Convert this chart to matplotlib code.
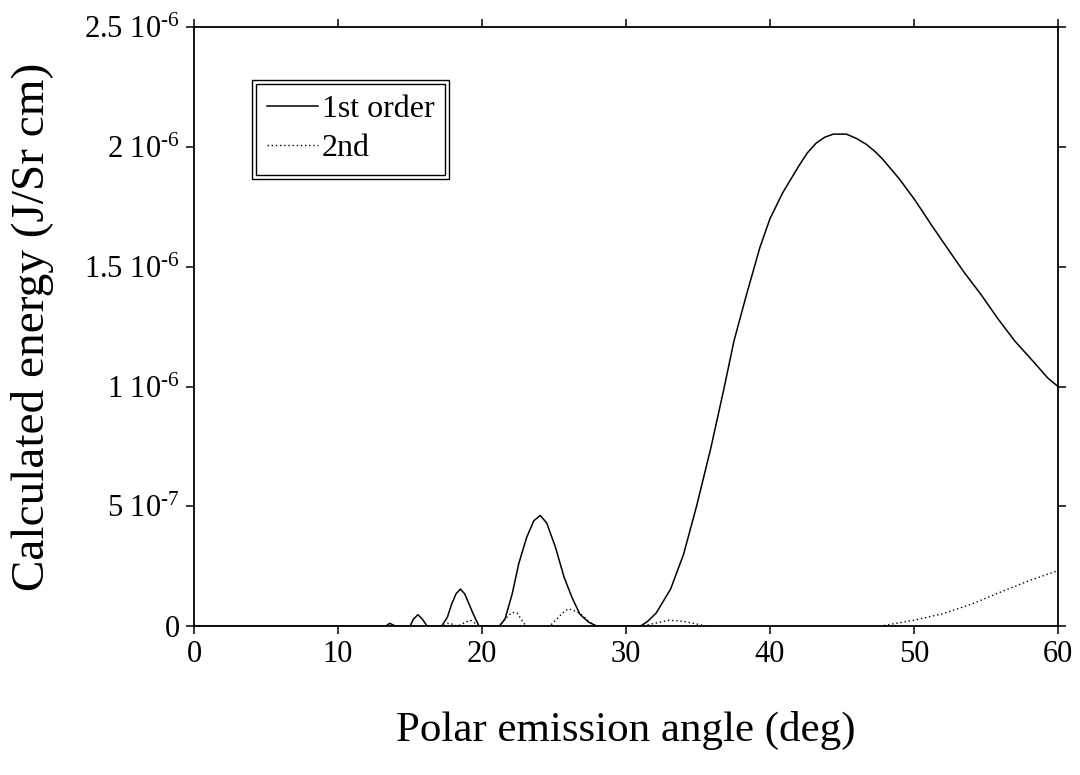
import matplotlib
matplotlib.use('Agg')
import matplotlib.pyplot as plt
from matplotlib.patches import Rectangle

plt.rcParams['font.family'] = 'Liberation Serif'
plt.rcParams['mathtext.fontset'] = 'custom'
plt.rcParams['mathtext.rm'] = 'Liberation Serif'
plt.rcParams['mathtext.it'] = 'Liberation Serif:italic'

# 1st order energy (units of 1e-6 J/Sr cm)
angle_1st = [0, 13.3, 13.6, 14.0, 15.0, 15.25, 15.55, 15.85, 16.2,
             17.2, 17.6, 17.9, 18.2, 18.5, 18.8, 19.1, 19.4, 19.8,
             21.2, 21.6, 22.1, 22.55, 23.1, 23.6, 24.05, 24.5, 25.1, 25.7,
             26.25, 26.8, 27.4, 28.0,
             31.0, 31.5, 32.1, 33.1, 34.0, 34.9, 35.9, 36.8, 37.5, 38.4,
             39.3, 40.0, 40.9, 41.5, 42.0, 42.6, 43.2, 43.8, 44.4, 45.3,
             46.0, 46.7, 47.3, 47.8, 49.0, 50.1, 51.2, 52.4, 53.5, 54.7,
             55.8, 57.0, 58.2, 59.3, 60.0]
energy_1st = [0, 0, 0.012, 0, 0, 0.03, 0.048, 0.03, 0,
              0, 0.038, 0.093, 0.135, 0.155, 0.135, 0.093, 0.05, 0,
              0, 0.03, 0.135, 0.26, 0.37, 0.44, 0.462, 0.43, 0.33, 0.205,
              0.12, 0.05, 0.017, 0,
              0, 0.02, 0.055, 0.155, 0.30, 0.50, 0.745, 0.99, 1.19, 1.39,
              1.58, 1.70, 1.81, 1.87, 1.92, 1.975, 2.015, 2.04, 2.053, 2.053,
              2.035, 2.01, 1.98, 1.95, 1.865, 1.775, 1.675, 1.57, 1.475, 1.38,
              1.285, 1.19, 1.11, 1.035, 1.00]

# 2nd order energy
angle_2nd = [0, 17.3, 17.6, 18.0, 18.3, 18.8, 19.2, 19.7, 20.0,
             21.2, 21.6, 22.1, 22.45, 22.9, 23.1,
             24.7, 25.2, 25.6, 26.0, 26.6, 27.0, 27.4, 27.9,
             31.0, 32.0, 33.0, 34.0, 35.0, 35.7,
             47.7, 48.0, 50.0, 52.0, 54.0, 56.0, 58.0, 60.0]
energy_2nd = [0, 0, 0.012, 0.008, 0, 0.015, 0.025, 0.005, 0,
              0, 0.03, 0.058, 0.054, 0.013, 0,
              0, 0.03, 0.055, 0.073, 0.06, 0.044, 0.02, 0,
              0, 0.012, 0.025, 0.02, 0.008, 0,
              0, 0.004, 0.025, 0.052, 0.092, 0.142, 0.19, 0.232]

yticks = [0, 0.5e-6, 1e-6, 1.5e-6, 2e-6, 2.5e-6]
ytick_labels = ['0', '5 10$^{\u20107}$', '1 10$^{\u20106}$', '1.5 10$^{\u20106}$',
                '2 10$^{\u20106}$', '2.5 10$^{\u20106}$']
xticks = [0, 10, 20, 30, 40, 50, 60]

fig = plt.figure(figsize=(10.8, 7.75), dpi=100)
ax = fig.add_axes([0.1796, 0.192, 0.80, 0.7732])

ax.plot(angle_1st, [v * 1e-6 for v in energy_1st], color='black', lw=1.1,
        label='1st order')
ax.plot(angle_2nd, [v * 1e-6 for v in energy_2nd], color='black', lw=1.0,
        linestyle=(0, (1, 2)), label='2nd')

ax.set_xlim(0, 60)
ax.set_ylim(0, 2.5e-6)
ax.set_xticks(xticks)
ax.set_xticklabels([str(t) for t in xticks])
ax.set_yticks(yticks)
ax.set_yticklabels(ytick_labels)
ax.tick_params(direction='out', length=6, width=1.1, labelsize=22,
               top=True, right=True, pad=4)
for s in ax.spines.values():
    s.set_linewidth(1.3)

ax.set_xlabel('Polar emission angle (deg)', fontsize=31, labelpad=30)
ax.set_ylabel('Calculated energy (J/Sr cm)', fontsize=34, labelpad=22)

leg = ax.legend(loc='upper left', bbox_to_anchor=(0.072, 0.905),
                borderaxespad=0, fontsize=23, handlelength=1.6,
                handletextpad=0.1, labelspacing=0.3, borderpad=0.35,
                fancybox=False, framealpha=1, edgecolor='black')
leg.get_frame().set_linewidth(1.0)

# outer frame of the double legend border
fig.canvas.draw()
bb = leg.get_window_extent().transformed(fig.transFigure.inverted())
px, py = 4 / fig.bbox.width, 4 / fig.bbox.height
fig.patches.append(Rectangle((bb.x0 - px, bb.y0 - py), bb.width + 2 * px,
                             bb.height + 2 * py, transform=fig.transFigure,
                             fill=False, edgecolor='black', lw=1.0))

fig.savefig('out.png', dpi=100)
